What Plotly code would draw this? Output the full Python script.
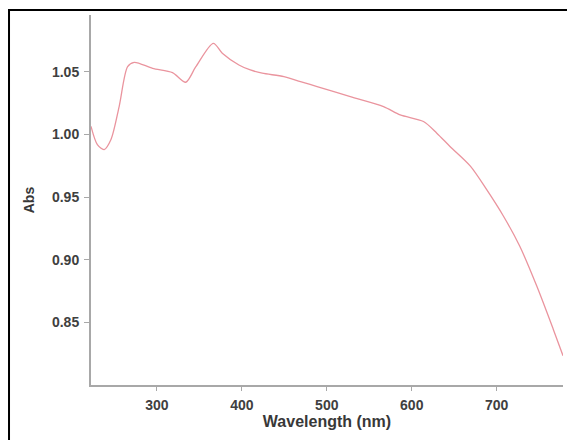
import plotly.graph_objects as go

wavelength = [222.5, 230, 238, 246, 255.7, 265.6, 273.3, 295, 318.4, 334, 345.7, 366.5, 377, 396.6,
              410, 424, 449.5, 469, 488.6, 527.7, 566.8, 586.4, 613.8, 629.5, 645, 669, 688,
              707.8, 727, 747, 766.5, 778]
absorbance = [1.0066, 0.992, 0.988, 0.996, 1.0226, 1.0542, 1.0577, 1.0529, 1.0495, 1.0418, 1.054, 1.0729, 1.065, 1.0556,
              1.0516, 1.049, 1.0463, 1.0423, 1.0383, 1.0303, 1.0224, 1.0157, 1.0104, 1.0011, 0.9905, 0.9748, 0.9562,
              0.935, 0.911, 0.8792, 0.8446, 0.8234]
x_ticks = [300, 400, 500, 600, 700]
y_ticks = [0.85, 0.90, 0.95, 1.00, 1.05]
y_tick_labels = ["0.85", "0.90", "0.95", "1.00", "1.05"]

fig = go.Figure()
fig.add_trace(go.Scatter(x=wavelength, y=absorbance, mode="lines",
                         line=dict(color="#EA949E", width=1.3, shape="spline", smoothing=0.8),
                         showlegend=False, hoverinfo="skip"))

FONT = "Arial, Liberation Sans, sans-serif"
tick_font = dict(family=FONT, size=14, color="#404040")
fig.update_layout(
    width=567, height=440,
    margin=dict(l=91, r=4, t=15, b=55),
    paper_bgcolor="white", plot_bgcolor="white",
    font=dict(family=FONT, size=14, color="#404040"),
    xaxis=dict(range=[222.5, 778], tickvals=x_ticks, ticktext=["<b>%d</b>" % v for v in x_ticks],
               showgrid=False, zeroline=False,
               showline=True, linecolor="#a8a8a8", linewidth=2,
               ticks="outside", ticklen=4, tickcolor="#a8a8a8", tickwidth=1,
               tickfont=tick_font, ticklabelstandoff=2,
               title=dict(text="<b>Wavelength (nm)</b>", standoff=4,
                          font=dict(family=FONT, size=16, color="#383838"))),
    yaxis=dict(range=[0.80, 1.0955], tickvals=y_ticks, ticktext=["<b>%s</b>" % t for t in y_tick_labels],
               showgrid=False, zeroline=False,
               showline=True, linecolor="#a8a8a8", linewidth=2,
               ticks="outside", ticklen=5, tickcolor="#a8a8a8", tickwidth=1,
               tickfont=tick_font, ticklabelstandoff=2,
               title=dict(text="<b>Abs</b>", standoff=14,
                          font=dict(family=FONT, size=14, color="#383838"))),
)

# outer frame of the picture
fig.add_shape(type="rect", xref="paper", yref="paper",
              x0=-0.1737, x1=1.03, y0=-0.2, y1=1.0135,
              line=dict(color="black", width=2), fillcolor="rgba(0,0,0,0)", layer="below")

fig.write_html("out.html", config={"displayModeBar": False},
               post_script="document.body.style.margin='0px';")
